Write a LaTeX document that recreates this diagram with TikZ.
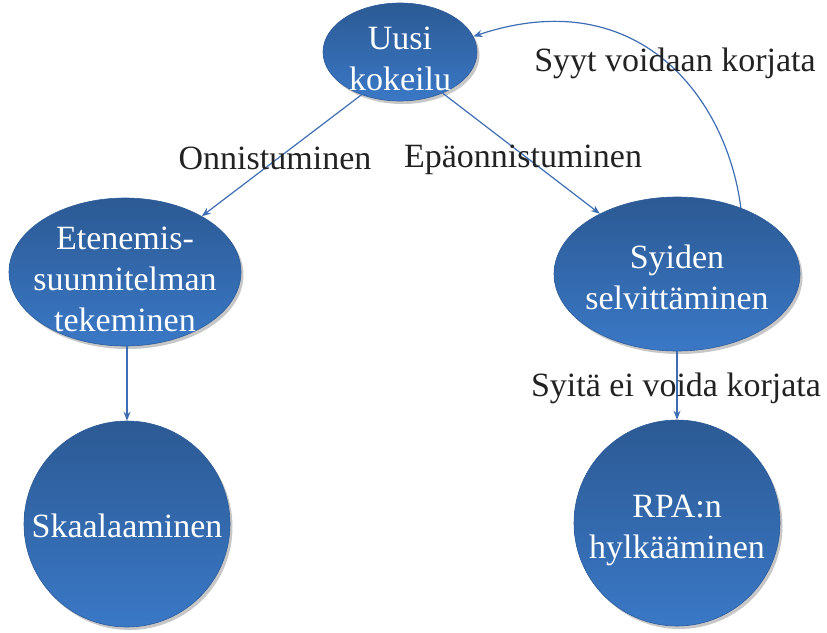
\documentclass[tikz,border=0pt]{standalone}
\usepackage{fontspec}
\setmainfont{Liberation Serif}
\usetikzlibrary{shapes.geometric,shadows,arrows.meta}
\definecolor{ntop}{HTML}{2C5A94}
\definecolor{nbot}{HTML}{3A78C6}
\definecolor{nedge}{HTML}{2D5C9A}
\definecolor{arrc}{HTML}{3D6EB4}
\definecolor{lbl}{HTML}{222222}
\begin{document}
\begin{tikzpicture}[x=1pt,y=-1pt,
  blob/.style={ellipse, top color=ntop, bottom color=nbot, draw=nedge, line width=0.6pt,
    inner sep=0pt,
    drop shadow={shadow xshift=2.5pt, shadow yshift=-3pt, fill=black!40, opacity=0.55}},
  ntext/.style={text=white, align=center, font=\fontsize{34}{41}\selectfont, inner sep=0pt},
  etext/.style={text=lbl, font=\fontsize{34}{40}\selectfont, inner sep=0pt},
  conn/.style={draw=arrc, line width=1.2pt, -{Stealth[length=9pt,width=7pt]}}]
\useasboundingbox (0,0) rectangle (827,632);
% shapes
\node[blob, minimum width=154pt, minimum height=98pt] (uusi) at (400,52) {};
\node[blob, minimum width=232pt, minimum height=148pt] (ete) at (125,272) {};
\node[blob, minimum width=246pt, minimum height=154pt] (syi) at (677,274) {};
\node[blob, circle, minimum size=206pt] (ska) at (127,524) {};
\node[blob, circle, minimum size=206pt] (rpa) at (677,523) {};
% texts
\node[ntext] (tuusi) at ([yshift=-7pt]uusi.center) {Uusi\\kokeilu};
\node[ntext] (tete) at ([yshift=-7pt]ete.center) {Etenemis-\\suunnitelman\\tekeminen};
\node[ntext] (tsyi) at ([yshift=-3pt]syi.center) {Syiden\\selvittäminen};
\node[ntext] (tska) at ([yshift=-2pt]ska.center) {Skaalaaminen};
\node[ntext] (trpa) at ([yshift=-7pt]rpa.center) {RPA:n\\hylkääminen};
% connectors
\draw[conn] (uusi.-132) -- (ete.36);
\draw[conn] (uusi.-44) -- (syi.142);
\draw[conn] (ete.south -| ska.north) -- (ska.north);
\draw[conn] (syi.south) -- (rpa.north);
\draw[conn] (syi.46) .. controls +(-14,-110) and +(165,-55) .. (uusi.12);
% edge labels
\node[etext] (l1) at (275,158) {Onnistuminen};
\node[etext] (l2) at (523,160) {Epäonnistuminen};
\node[etext] (l3) at (675,63) {Syyt voidaan korjata};
\node[etext] (l4) at (676,388) {Syitä ei voida korjata};
\end{tikzpicture}
\end{document}
